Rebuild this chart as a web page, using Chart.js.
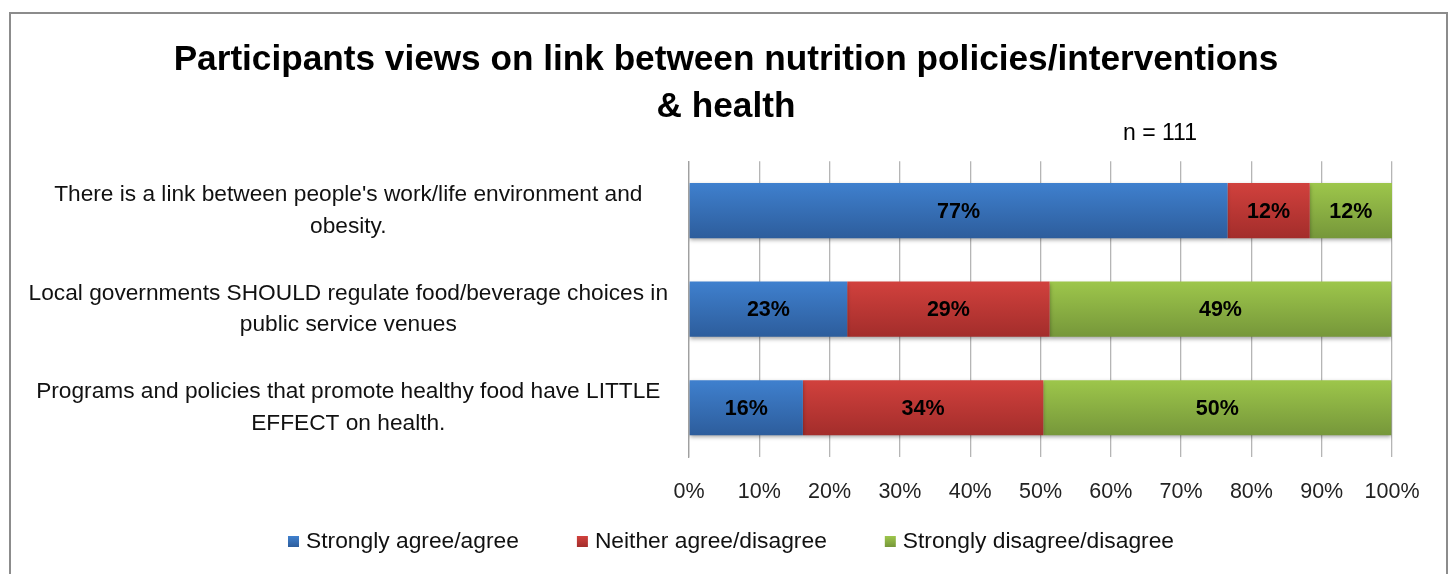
<!DOCTYPE html>
<html>
<head>
<meta charset="utf-8">
<script src="https://cdn.jsdelivr.net/npm/chart.js@4/dist/chart.umd.min.js"></script>
<style>
  body { margin: 0; background: #fff; }
  #wrap { position: relative; width: 1452px; height: 574px; overflow: hidden; }
  #frame { position: absolute; left: 9px; top: 12px; width: 1439px; height: 600px; border: 2px solid #8c8c8c; box-sizing: border-box; }
  #painel { position: absolute; left: 0; top: 0; }
</style>
</head>
<body>
<div id="wrap">
  <div id="frame"></div>
  <canvas id="painel" width="1452" height="574"></canvas>
</div>
<script>
const categorias = [
  ["There is a link between people's work/life environment and", 'obesity.'],
  ['Local governments SHOULD regulate food/beverage choices in', 'public service venues'],
  ['Programs and policies that promote healthy food have LITTLE', 'EFFECT on health.']
]; // rótulos do eixo Y
const concordam = [76.6, 22.5, 16.2];   // Strongly agree/agree (%)
const neutros = [11.7, 28.8, 34.2];     // Neither agree/disagree (%)
const discordam = [11.7, 48.6, 49.5];   // Strongly disagree/disagree (%)
const series = ['Strongly agree/agree', 'Neither agree/disagree', 'Strongly disagree/disagree'];
const ticksX = [0, 10, 20, 30, 40, 50, 60, 70, 80, 90, 100];
const titulo = ['Participants views on link between nutrition policies/interventions', '& health'];
const amostra = 'n = 111';

const fonte = '"Liberation Sans", Arial, sans-serif';
const BAR_PCT = 0.56;

// cores: [topo, base] do degradê de cada série
const cores = [['#3f80ce', '#2d5d9c'], ['#d1413d', '#a32d2b'], ['#9dc64b', '#76973a']];

function degrade(i) {
  return function (c) {
    const chart = c.chart;
    const y = chart.scales.y;
    if (!y || !chart.chartArea || c.dataIndex === undefined) return cores[i][0];
    const meio = y.getPixelForValue(c.dataIndex);
    const meia = (y.height / categorias.length) * BAR_PCT / 2;
    const g = chart.ctx.createLinearGradient(0, meio - meia, 0, meio + meia);
    g.addColorStop(0, cores[i][0]);
    g.addColorStop(1, cores[i][1]);
    return g;
  };
}

// rótulos de dados dentro das barras
const rotulos = {
  id: 'rotulos',
  afterDatasetsDraw(chart) {
    const ctx = chart.ctx;
    ctx.save();
    ctx.font = 'bold 21.5px ' + fonte;
    ctx.fillStyle = '#000';
    ctx.textAlign = 'center';
    ctx.textBaseline = 'middle';
    chart.data.datasets.forEach((ds, d) => {
      chart.getDatasetMeta(d).data.forEach((bar, i) => {
        const p = bar.getCenterPoint();
        ctx.fillText(Math.round(ds.data[i]) + '%', p.x, p.y + 1);
      });
    });
    ctx.restore();
  }
};

// sombra leve sob as barras
const sombra = {
  id: 'sombra',
  beforeDatasetsDraw(chart) {
    const ctx = chart.ctx;
    ctx.save();
    ctx.shadowColor = 'rgba(0,0,0,0.35)';
    ctx.shadowBlur = 4;
    ctx.shadowOffsetY = 2;
  },
  afterDatasetsDraw(chart) {
    chart.ctx.restore();
  }
};

// texto "n = 111"
const nota = {
  id: 'nota',
  afterDraw(chart) {
    const a = chart.chartArea;
    const ctx = chart.ctx;
    ctx.save();
    ctx.font = '23px ' + fonte;
    ctx.fillStyle = '#000';
    ctx.textAlign = 'center';
    ctx.textBaseline = 'middle';
    ctx.fillText(amostra, a.left + (a.right - a.left) * 0.67, a.top - 28);
    ctx.restore();
  }
};

// legenda embaixo (quadrado + texto, espaçamento do Excel)
const legenda = {
  id: 'legenda',
  afterDraw(chart) {
    const ctx = chart.ctx;
    const ds = chart.data.datasets;
    ctx.save();
    ctx.font = '22.8px ' + fonte;
    ctx.textBaseline = 'middle';
    ctx.textAlign = 'left';
    const larg = ds.map(d => 18 + ctx.measureText(d.label).width);
    const gap = 58;
    const total = larg.reduce((s, w) => s + w, 0) + gap * (ds.length - 1);
    let x = chart.width / 2 + 5 - total / 2;
    const y = chart.chartArea.bottom + 85;
    ds.forEach((d, i) => {
      const g = ctx.createLinearGradient(0, y - 6, 0, y + 5);
      g.addColorStop(0, cores[i][0]);
      g.addColorStop(1, cores[i][1]);
      ctx.fillStyle = g;
      ctx.fillRect(x, y - 6, 11, 11);
      ctx.fillStyle = '#111';
      ctx.fillText(d.label, x + 18, y);
      x += larg[i] + gap;
    });
    ctx.restore();
  }
};

const ctx = document.getElementById('painel').getContext('2d');
const painel = new Chart(ctx, {
  type: 'bar',
  data: {
    labels: categorias,
    datasets: [concordam, neutros, discordam].map((v, i) => ({
      label: series[i],
      data: v,
      backgroundColor: degrade(i),
      borderWidth: 0,
      categoryPercentage: 1,
      barPercentage: BAR_PCT
    }))
  },
  options: {
    indexAxis: 'y',
    responsive: false,
    animation: false,
    layout: { padding: { left: 0, right: 0, top: 20, bottom: 69 } },
    scales: {
      x: {
        stacked: true,
        min: 0,
        max: 100,
        afterBuildTicks(ax) { ax.ticks = ticksX.map(v => ({ value: v })); },
        afterFit(ax) { ax.height = 48; },
        border: { display: false },
        grid: { color: '#b5b5b5', lineWidth: 1.3, drawTicks: false },
        ticks: {
          padding: 22,
          maxRotation: 0,
          color: '#222',
          font: { family: fonte, size: 21.5 },
          callback: v => v + '%'
        }
      },
      y: {
        stacked: true,
        afterFit(ax) { ax.width = 689; },
        border: { display: true, color: '#a0a0a0', width: 1.3 },
        grid: { display: false, drawTicks: false },
        ticks: {
          crossAlign: 'center',
          padding: 21,
          color: '#111',
          font: { family: fonte, size: 22.7, lineHeight: 1.38 }
        }
      },
      // eixo vazio à direita só para reservar a margem
      margem: {
        axis: 'y',
        type: 'category',
        position: 'right',
        afterFit(ax) { ax.width = 60; },
        border: { display: false },
        grid: { display: false, drawTicks: false },
        ticks: { display: false }
      }
    },
    plugins: {
      title: {
        display: true,
        text: titulo,
        color: '#000',
        font: { family: fonte, size: 35.2, weight: 'bold', lineHeight: 1.34 },
        padding: { top: 16.5, bottom: 30.5 }
      },
      legend: { display: false },
      tooltip: { enabled: false }
    }
  },
  plugins: [sombra, rotulos, nota, legenda]
});
</script>
</body>
</html>
